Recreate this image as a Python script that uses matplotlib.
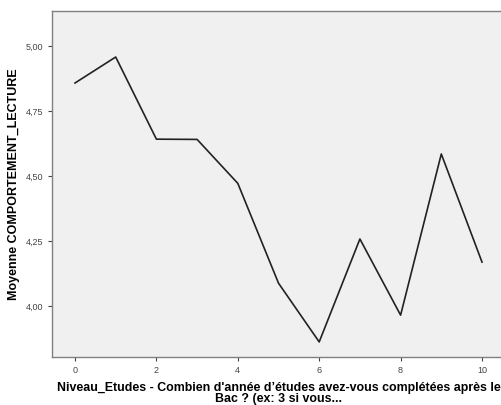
import numpy as np
import matplotlib.pyplot as plt

plt.rcParams['font.family'] = ['Liberation Sans', 'DejaVu Sans']

niveau = [0, 1, 2, 3, 4, 5, 6, 7, 8, 9, 10]
moyenne = [4.858, 4.958, 4.642, 4.641, 4.472, 4.088, 3.862, 4.258, 3.965, 4.585, 4.169]
y_ticks = [4.00, 4.25, 4.50, 4.75, 5.00]
y_labels = ["4,00", "4,25", "4,50", "4,75", "5,00"]
x_ticks = [0, 2, 4, 6, 8, 10]

fig = plt.figure(figsize=(5.01, 4.05), dpi=100)
# zone du graphique (en pixels : gauche 52, haut 11, bas 357, droite ~505)
ax = fig.add_axes([52 / 501, (405 - 357) / 405, (505 - 52) / 501, (357 - 11) / 405])
ax.set_facecolor('#f0f0f0')

ax.plot(niveau, moyenne, color='#222222', linewidth=1.2)

ax.set_xlim(-0.565, 10.565)
ax.set_ylim(3.804, 5.135)
ax.set_yticks(y_ticks)
ax.set_yticklabels(y_labels)
ax.set_xticks(x_ticks)
ax.tick_params(labelsize=6.5, colors='#444444', length=3, width=0.8)

for s in ['left', 'top', 'bottom', 'right']:
    ax.spines[s].set_color('#808080')
    ax.spines[s].set_linewidth(1.0)

ax.set_ylabel("Moyenne COMPORTEMENT_LECTURE", fontsize=9, fontweight='bold', labelpad=4)
ax.set_xlabel("Niveau_Etudes - Combien d'année d’études avez-vous complétées après le\nBac ? (ex: 3 si vous...",
              fontsize=8.9, fontweight='bold', labelpad=5, linespacing=0.85)

fig.savefig("out.png", dpi=100, facecolor='white')
